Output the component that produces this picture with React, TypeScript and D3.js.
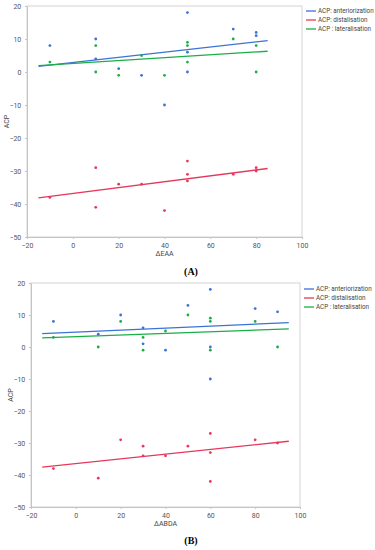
import React, { useEffect, useRef } from 'react';
import * as d3 from 'd3';

type Pt = [number, number];

// panel A (ΔEAA)
const antA: Pt[] = [[-10, 8], [10, 10], [10, 4], [20, 1], [30, -1], [40, -10], [50, 18], [50, 6], [50, 0], [70, 13], [80, 12], [80, 11]];
const disA: Pt[] = [[-10, -38], [10, -29], [10, -41], [20, -34], [30, -34], [40, -42], [50, -27], [50, -31], [50, -33], [70, -31], [80, -29], [80, -30]];
const latA: Pt[] = [[-10, 3], [10, 8], [10, 0], [20, -1], [30, 5], [40, -1], [50, 9], [50, 8], [50, 3], [70, 10], [80, 8], [80, 0]];

// panel B (ΔABDA)
const antB: Pt[] = [[-10, 8], [10, 4], [20, 10], [30, 6], [30, 1], [40, -1], [50, 13], [60, 18], [60, 0], [60, -10], [80, 12], [90, 11]];
const disB: Pt[] = [[-10, -38], [10, -41], [20, -29], [30, -31], [30, -34], [40, -34], [50, -31], [60, -27], [60, -33], [60, -42], [80, -29], [90, -30]];
const latB: Pt[] = [[-10, 3], [10, 0], [20, 8], [30, 3], [30, -1], [40, 5], [50, 10], [60, 9], [60, 8], [60, -1], [80, 8], [90, 0]];

const xTicks = [-20, 0, 20, 40, 60, 80, 100];
const yTicks = [-50, -40, -30, -20, -10, 0, 10, 20];
const seriesNamesA = ['ACP: anteriorization', 'ACP: distalisation', 'ACP : lateralisation'];
const seriesNamesB = ['ACP: anteriorization', 'ACP: distalisation', 'ACP : lateralisation'];

const COLORS = ['#3b72d8', '#e6385c', '#1aae47'];
const FONT = 'Roboto, "Liberation Sans", sans-serif';

// least squares fit
const fit = (pts: Pt[]) => {
  const mx = d3.mean(pts, (d) => d[0])!;
  const my = d3.mean(pts, (d) => d[1])!;
  const sxy = d3.sum(pts, (d) => (d[0] - mx) * (d[1] - my));
  const sxx = d3.sum(pts, (d) => (d[0] - mx) ** 2);
  const b = sxy / sxx;
  return (x: number) => my + b * (x - mx);
};

type PanelCfg = {
  series: Pt[][];
  names: string[];
  fitRange: [number, number];
  box: { left: number; right: number; top: number; bottom: number };
  xLabel: string;
  xLabelY: number;
  tag: string;
  tagY: number;
  legend: { x: number; y: number };
};

const drawPanel = (svg: d3.Selection<SVGSVGElement, unknown, null, undefined>, cfg: PanelCfg) => {
  const { box } = cfg;
  const x = d3.scaleLinear().domain([-20, 100]).range([box.left, box.right]);
  const y = d3.scaleLinear().domain([-50, 20]).range([box.bottom, box.top]);
  const g = svg.append('g');

  // frame
  g.append('rect')
    .attr('x', box.left)
    .attr('y', box.top)
    .attr('width', box.right - box.left)
    .attr('height', box.bottom - box.top)
    .attr('fill', 'none')
    .attr('stroke', '#d4d4d4')
    .attr('stroke-width', 1);

  const xAxis = g.append('g')
    .attr('transform', `translate(0,${box.bottom})`)
    .call(d3.axisBottom(x).tickValues(xTicks).tickSize(2).tickSizeOuter(0));
  const yAxis = g.append('g')
    .attr('transform', `translate(${box.left},0)`)
    .call(d3.axisLeft(y).tickValues(yTicks).tickSize(2).tickSizeOuter(0));
  [xAxis, yAxis].forEach((a) => {
    a.select('.domain').attr('stroke', '#c4c4c4');
    a.selectAll('.tick line').attr('stroke', '#c4c4c4');
    a.selectAll('.tick text')
      .attr('fill', '#555')
      .style('font-family', FONT)
      .style('font-size', '7px');
  });
  xAxis.selectAll('.tick text').attr('dy', '0.9em');
  yAxis.selectAll('.tick text').attr('dx', '-0.1em');

  // axis titles
  g.append('text')
    .attr('x', (box.left + box.right) / 2)
    .attr('y', cfg.xLabelY)
    .attr('text-anchor', 'middle')
    .attr('fill', '#444')
    .style('font-family', FONT)
    .style('font-size', '7px')
    .text(cfg.xLabel);
  g.append('text')
    .attr('transform', `translate(${box.left - 18},${(box.top + box.bottom) / 2}) rotate(-90)`)
    .attr('text-anchor', 'middle')
    .attr('fill', '#444')
    .style('font-family', FONT)
    .style('font-size', '7px')
    .text('ACP');

  // points and fit lines
  cfg.series.forEach((pts, i) => {
    const f = fit(pts);
    g.append('path')
      .attr('d', d3.line<number>().x((v) => x(v)).y((v) => y(f(v)))(cfg.fitRange))
      .attr('fill', 'none')
      .attr('stroke', COLORS[i])
      .attr('stroke-width', 1.3);
    g.append('g')
      .selectAll('circle')
      .data(pts)
      .enter()
      .append('circle')
      .attr('cx', (d) => x(d[0]))
      .attr('cy', (d) => y(d[1]))
      .attr('r', 1.4)
      .attr('fill', COLORS[i]);
  });

  // legend
  const lg = g.append('g').attr('transform', `translate(${cfg.legend.x},${cfg.legend.y})`);
  cfg.names.forEach((n, i) => {
    lg.append('line')
      .attr('x1', 0)
      .attr('x2', 10)
      .attr('y1', i * 9)
      .attr('y2', i * 9)
      .attr('stroke', COLORS[i])
      .attr('stroke-width', 1.3);
    lg.append('text')
      .attr('x', 12)
      .attr('y', i * 9)
      .attr('dy', '0.35em')
      .attr('fill', '#444')
      .style('font-family', FONT)
      .style('font-size', '6.3px')
      .text(n);
  });

  // panel tag
  g.append('text')
    .attr('x', 191)
    .attr('y', cfg.tagY)
    .attr('text-anchor', 'middle')
    .style('font-family', '"Liberation Serif", serif')
    .style('font-weight', 'bold')
    .style('font-size', '10px')
    .text(cfg.tag);
};

export default function App() {
  const ref = useRef<SVGSVGElement>(null);

  useEffect(() => {
    if (!ref.current) return;
    const svg = d3.select(ref.current);
    svg.selectAll('*').remove();

    drawPanel(svg, {
      series: [antA, disA, latA],
      names: seriesNamesA,
      fitRange: [-15, 85],
      box: { left: 27, right: 302, top: 6, bottom: 237 },
      xLabel: 'ΔEAA',
      xLabelY: 256,
      tag: '(A)',
      tagY: 275,
      legend: { x: 306, y: 11 },
    });

    drawPanel(svg, {
      series: [antB, disB, latB],
      names: seriesNamesB,
      fitRange: [-15, 95],
      box: { left: 31, right: 300, top: 283, bottom: 507 },
      xLabel: 'ΔABDA',
      xLabelY: 526,
      tag: '(B)',
      tagY: 544,
      legend: { x: 304, y: 289 },
    });
  }, []);

  return (
    <svg
      ref={ref}
      width={375}
      height={550}
      style={{ position: 'absolute', left: 0, top: 0, background: '#fff' }}
    />
  );
}
